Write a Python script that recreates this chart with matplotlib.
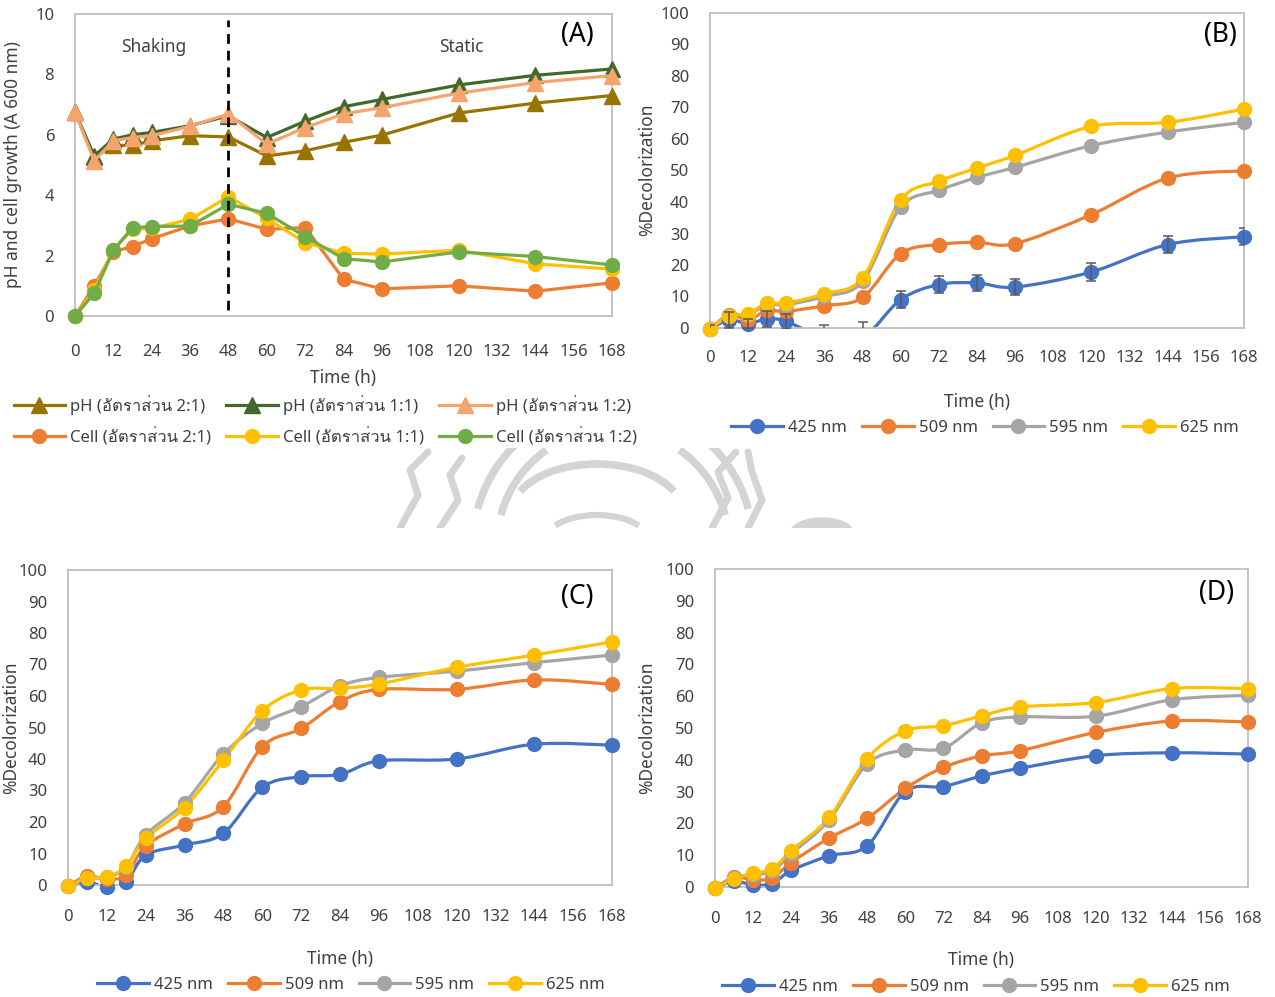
import matplotlib
matplotlib.use("Agg")
import matplotlib.pyplot as plt
from matplotlib import font_manager
from matplotlib.lines import Line2D
from matplotlib.path import Path
from matplotlib.patches import PathPatch, Arc, Ellipse
from fontTools.ttLib import TTFont

W, H = 1275, 997

hours = [0, 6, 12, 18, 24, 36, 48, 60, 72, 84, 96, 120, 144, 168]
x_ticks = list(range(0, 169, 12))

# (A) pH and cell growth at three mixing ratios
ph_21 = [6.75, 5.25, 5.65, 5.65, 5.8, 5.97, 5.93, 5.3, 5.47, 5.75, 5.99, 6.72, 7.05, 7.3]
ph_11 = [6.75, 5.3, 5.86, 6.0, 6.08, 6.3, 6.63, 5.91, 6.45, 6.93, 7.17, 7.65, 7.97, 8.18]
ph_12 = [6.75, 5.14, 5.8, 5.91, 5.97, 6.28, 6.69, 5.69, 6.24, 6.69, 6.9, 7.38, 7.73, 7.96]
cell_21 = [0.0, 1.0, 2.13, 2.3, 2.56, 2.98, 3.22, 2.87, 2.93, 1.22, 0.9, 1.0, 0.82, 1.1]
cell_11 = [0.0, 0.85, 2.2, 2.87, 2.9, 3.2, 3.95, 3.23, 2.43, 2.08, 2.05, 2.18, 1.73, 1.55]
cell_12 = [0.0, 0.75, 2.17, 2.93, 2.96, 2.98, 3.7, 3.4, 2.63, 1.9, 1.79, 2.12, 1.97, 1.69]
ratio_names = ["2:1", "1:1", "1:2"]

# (B)-(D) decolorization at four wavelengths
wavelengths = ["425 nm", "509 nm", "595 nm", "625 nm"]

b_425 = [-0.4, 2.6, 1.4, 2.9, 2.1, -3.0, -3.0, 9.0, 13.8, 14.3, 13.0, 17.8, 26.5, 29.0]
b_425_err = [1.5, 2.5, 1.5, 2.5, 2.5, 4.0, 4.8, 2.7, 2.6, 2.6, 2.6, 2.8, 2.7, 2.7]
b_509 = [-0.4, 4.2, 2.6, 5.6, 5.3, 7.1, 9.7, 23.6, 26.5, 27.2, 26.8, 36.0, 47.6, 49.9]
b_595 = [-0.4, 3.9, 4.2, 7.4, 7.4, 10.0, 14.8, 38.4, 43.7, 47.8, 51.0, 57.9, 62.2, 65.3]
b_625 = [-0.4, 3.9, 4.6, 7.9, 7.9, 10.9, 15.9, 40.7, 46.6, 50.8, 54.8, 64.0, 65.3, 69.5]

c_425 = [-0.4, 1.0, -0.7, 1.1, 9.5, 12.7, 16.4, 31.0, 34.4, 35.1, 39.4, 40.0, 44.7, 44.4]
c_509 = [-0.4, 2.9, 1.8, 3.2, 12.4, 19.4, 24.9, 43.9, 49.7, 58.2, 62.1, 62.1, 65.1, 63.7]
c_595 = [-0.4, 2.1, 2.4, 5.8, 15.9, 26.1, 41.6, 51.3, 56.6, 63.2, 65.9, 67.9, 70.6, 73.0]
c_625 = [-0.4, 2.1, 2.6, 6.0, 14.8, 24.6, 39.7, 55.3, 61.9, 62.4, 63.8, 69.1, 73.0, 77.2]

d_425 = [-0.3, 1.8, 0.7, 1.0, 5.2, 9.8, 13.0, 30.0, 31.6, 34.9, 37.3, 41.3, 42.2, 41.8]
d_509 = [-0.3, 3.0, 2.3, 2.8, 7.7, 15.4, 21.6, 31.0, 37.6, 41.2, 42.8, 48.6, 52.2, 51.9]
d_595 = [-0.3, 2.8, 3.9, 4.9, 10.4, 21.1, 38.7, 43.1, 43.6, 51.6, 53.5, 53.7, 58.9, 60.3]
d_625 = [-0.3, 2.5, 4.4, 5.6, 11.4, 21.9, 40.4, 49.1, 50.7, 53.8, 56.6, 58.0, 62.4, 62.4]

PH_COLORS = ["#997300", "#43682B", "#F4A46C"]
CELL_COLORS = ["#ED7D31", "#FFC000", "#70AD47"]
WL_COLORS = ["#4472C4", "#ED7D31", "#A5A5A5", "#FFC000"]
TEXT = "#404040"
FRAME = "#BFBFBF"
LW = 2.3
MS = 10


def find_thai_font():
    for f in font_manager.fontManager.ttflist:
        try:
            cmap = TTFont(f.fname, fontNumber=0, lazy=True).getBestCmap()
        except Exception:
            continue
        if cmap and 0x0E2D in cmap and 0x0E31 in cmap:
            return f.name
    return None


thai = find_thai_font()
families = ["Noto Sans"] + ([thai] if thai else []) + ["DejaVu Sans"]
plt.rcParams["font.family"] = families
plt.rcParams["font.size"] = 12


def px_axes(fig, x0, x1, top, bottom):
    ax = fig.add_axes([x0 / W, 1 - bottom / H, (x1 - x0) / W, (bottom - top) / H])
    ax.box = (x0, x1, top, bottom)
    return ax


def to_axes(ax, px, py):
    x0, x1, top, bottom = ax.box
    return (px - x0) / (x1 - x0), (bottom - py) / (bottom - top)


def style(ax, ylim, yticks, pad_x, ylabel, ylab_px, xlab_py, letter, letter_px):
    ax.set_xlim(0, 168)
    ax.set_ylim(*ylim)
    ax.set_xticks(x_ticks)
    ax.set_yticks(yticks)
    ax.tick_params(length=0, labelsize=12, labelcolor=TEXT)
    ax.tick_params(axis="x", pad=pad_x)
    ax.tick_params(axis="y", pad=15)
    for sp in ax.spines.values():
        sp.set_color(FRAME)
        sp.set_linewidth(1.3)
    ax.set_ylabel(ylabel, fontsize=12.5, color=TEXT)
    ax.yaxis.set_label_coords(*to_axes(ax, *ylab_px))
    ax.set_xlabel("Time (h)", fontsize=12.5, color=TEXT)
    # xlabel is top-anchored, so shift by half its height
    mid = ax.box[0] + (ax.box[1] - ax.box[0]) / 2
    ax.xaxis.set_label_coords(*to_axes(ax, mid, xlab_py - 7))
    lx, ly = to_axes(ax, *letter_px)
    ax.text(lx, ly, letter, transform=ax.transAxes, fontsize=19,
            ha="center", va="center", color="black")


def smooth_path(x, y):
    # Catmull-Rom style cubic segments through every point
    pts = list(zip(x, y))
    n = len(pts)
    verts, codes = [pts[0]], [Path.MOVETO]
    for i in range(n - 1):
        p0, p1 = pts[max(i - 1, 0)], pts[i]
        p2, p3 = pts[i + 1], pts[min(i + 2, n - 1)]
        c1 = (p1[0] + (p2[0] - p0[0]) / 6, p1[1] + (p2[1] - p0[1]) / 6)
        c2 = (p2[0] - (p3[0] - p1[0]) / 6, p2[1] - (p3[1] - p1[1]) / 6)
        verts += [c1, c2, p2]
        codes += [Path.CURVE4] * 3
    return Path(verts, codes)


def decol_panel(ax, series):
    for vals, col in zip(series, WL_COLORS):
        ax.add_patch(PathPatch(smooth_path(hours, vals), fill=False,
                               edgecolor=col, lw=LW, zorder=2))
        near = [(h, v) for h, v in zip(hours, vals) if v > -1]
        below = [(h, v) for h, v in zip(hours, vals) if v <= -1]
        if near:
            ax.plot(*zip(*near), ls="none", marker="o", ms=MS, color=col,
                    clip_on=False, zorder=3)
        if below:
            ax.plot(*zip(*below), ls="none", marker="o", ms=MS, color=col, zorder=3)


def wl_legend(fig, cx, cy):
    handles = [Line2D([], [], color=c, lw=LW, marker="o", ms=MS) for c in WL_COLORS]
    fig.legend(handles, wavelengths, loc="center", bbox_to_anchor=(cx / W, 1 - cy / H),
               ncol=4, frameon=False, fontsize=12, handlelength=3.1,
               handletextpad=0.3, columnspacing=0.9, labelcolor=TEXT)


fig = plt.figure(figsize=(W / 100, H / 100), dpi=100)

# watermark fragment behind the middle band
wm = fig.add_axes([380 / W, 1 - 528 / H, 490 / W, 80 / H], zorder=0)
wm.set_xlim(380, 870)
wm.set_ylim(528, 448)
wm.axis("off")
wgray = "#D4D4D4"
for r in (140, 116):
    wm.add_patch(Arc((613, 545), 2 * r, 2 * r, theta1=195, theta2=235, color=wgray, lw=5.5))
    wm.add_patch(Arc((613, 545), 2 * r, 2 * r, theta1=305, theta2=345, color=wgray, lw=5.5))
wm.add_patch(Arc((597, 512), 170, 96, theta1=195, theta2=345, color=wgray, lw=5.5))
wm.add_patch(Arc((597, 545), 110, 60, theta1=205, theta2=335, color=wgray, lw=4.5))
for xs, ys in [([400, 418, 410, 428], [528, 495, 470, 452]),
               ([440, 458, 450, 462], [528, 500, 475, 458]),
               ([712, 728, 718, 736], [528, 498, 472, 452]),
               ([748, 762, 752, 748], [528, 500, 472, 452])]:
    wm.plot(xs, ys, color=wgray, lw=5, solid_capstyle="round")
wm.add_patch(Ellipse((822, 532), 62, 28, color=wgray))

# (A) pH and cell growth
axA = px_axes(fig, 75, 612, 14, 316)
for vals, col in zip([ph_21, ph_11, ph_12], PH_COLORS):
    axA.plot(hours, vals, color=col, lw=LW, marker="^", ms=MS + 1, clip_on=False, zorder=3)
for vals, col in zip([cell_21, cell_11, cell_12], CELL_COLORS):
    axA.plot(hours, vals, color=col, lw=LW, marker="o", ms=MS, clip_on=False, zorder=3)
axA.axvline(48, ymin=0.02, ymax=0.98, color="black", lw=2, ls=(0, (3.5, 2.5)), zorder=4)
axA.text(24.5, 8.9, "Shaking", fontsize=12.5, color=TEXT, ha="center", va="center")
axA.text(121, 8.9, "Static", fontsize=12.5, color=TEXT, ha="center", va="center")
style(axA, (0, 10), range(0, 11, 2), 20, "pH and cell growth (A 600 nm)",
      (22, 165), 376, "(A)", (577, 35))

ph_h = [Line2D([], [], color=c, lw=LW, marker="^", ms=MS + 1) for c in PH_COLORS]
cell_h = [Line2D([], [], color=c, lw=LW, marker="o", ms=MS) for c in CELL_COLORS]
ph_l = [f"pH (อัตราส่วน {r})" for r in ratio_names]
cell_l = [f"Cell (อัตราส่วน {r})" for r in ratio_names]
handles, labels = [], []
for i in range(3):
    handles += [ph_h[i], cell_h[i]]
    labels += [ph_l[i], cell_l[i]]
fig.legend(handles, labels, loc="center", bbox_to_anchor=(325 / W, 1 - 420 / H),
           ncol=3, frameon=False, fontsize=12, handlelength=3.1, handletextpad=0.3,
           columnspacing=0.9, labelspacing=0.75, labelcolor=TEXT)

# (B)
axB = px_axes(fig, 710, 1244, 13, 328)
decol_panel(axB, [b_425, b_509, b_595, b_625])
axB.errorbar(hours, b_425, yerr=b_425_err, fmt="none", ecolor="#595959",
             elinewidth=1.1, capsize=3.5, capthick=1.1, zorder=4)
style(axB, (0, 100), range(0, 101, 10), 16, "%Decolorization",
      (656, 170), 400, "(B)", (1220, 35))
wl_legend(fig, 985, 428)

# (C)
axC = px_axes(fig, 68, 612, 570, 885)
decol_panel(axC, [c_425, c_509, c_595, c_625])
style(axC, (0, 100), range(0, 101, 10), 17, "%Decolorization",
      (20, 728), 957, "(C)", (577, 597))
wl_legend(fig, 351, 985)

# (D)
axD = px_axes(fig, 715, 1248, 569, 887)
decol_panel(axD, [d_425, d_509, d_595, d_625])
style(axD, (0, 100), range(0, 101, 10), 17, "%Decolorization",
      (656, 728), 958, "(D)", (1217, 593))
wl_legend(fig, 976, 987)

fig.savefig("out.png", dpi=100)
plt.close(fig)
